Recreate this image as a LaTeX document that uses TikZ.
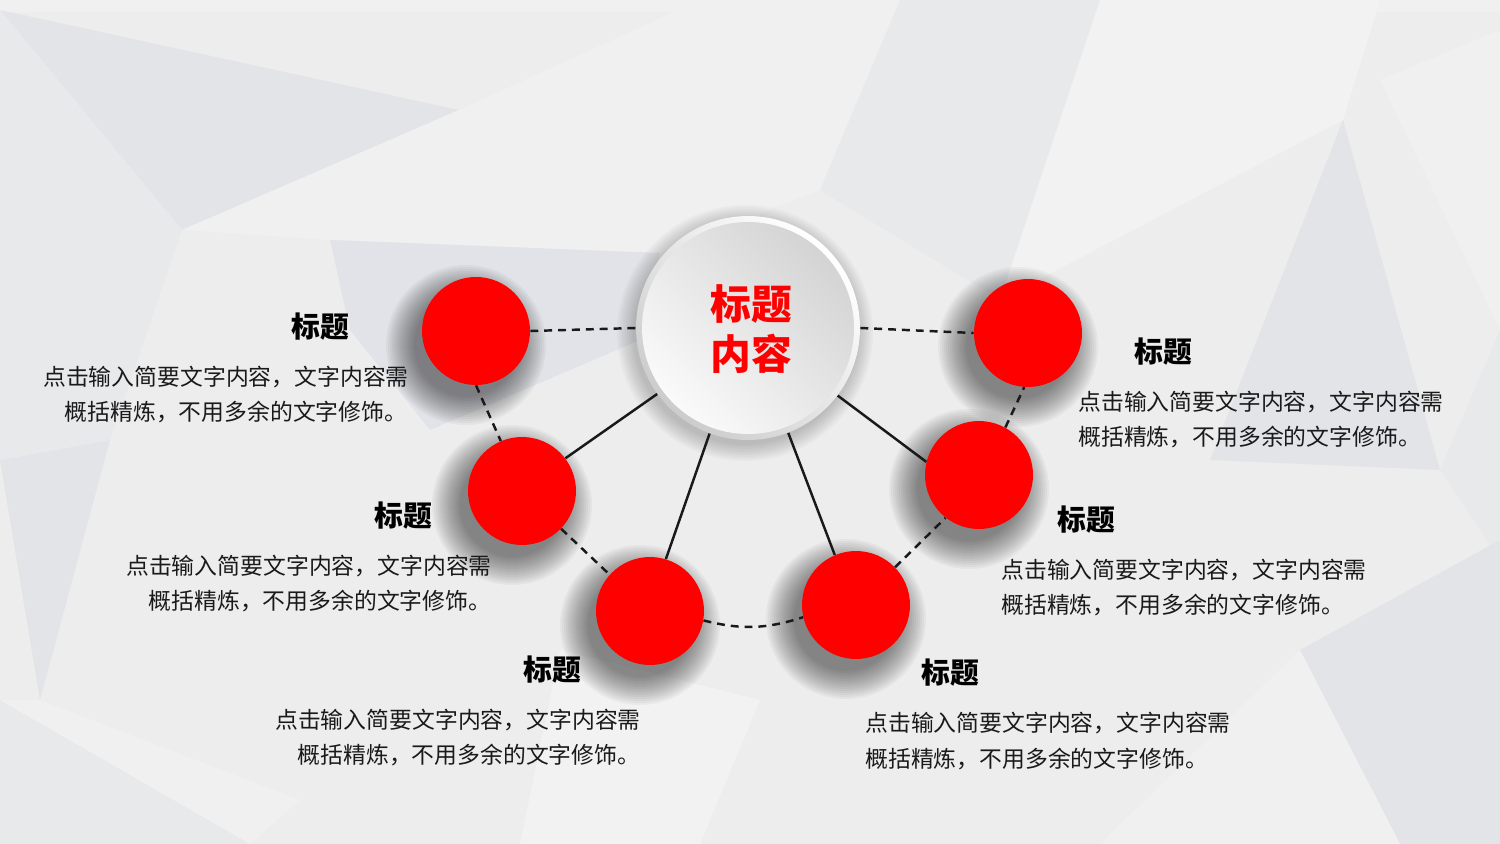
\documentclass[tikz,border=0pt]{standalone}
\usepackage{fontspec}
\setmainfont{Noto Sans CJK SC}
\definecolor{bgbase}{HTML}{EDEDEE}
\definecolor{pa}{HTML}{E3E4E7}
\definecolor{pb}{HTML}{E8E9EB}
\definecolor{pc}{HTML}{F0F0F0}
\definecolor{pd}{HTML}{E1E3E8}
\definecolor{pe}{HTML}{F2F2F2}
\definecolor{myred}{HTML}{FE0000}
\definecolor{textc}{HTML}{1A1A1A}
\begin{document}
\begin{tikzpicture}[x=0.02cm,y=-0.02cm]
\tikzset{
  redball/.style={circle, fill=myred, minimum size=2.16cm, inner sep=0pt},
  shadowlayer/.style={fill=black, opacity=#1},
  conn/.style={line width=1.4pt, draw=black!90},
  dconn/.style={conn, dash pattern=on 4.5pt off 3.4pt},
  ttl/.style={font=\bfseries\fontsize{16.4}{20}\selectfont, text=black, inner sep=0pt},
  bodyt/.style={font=\fontsize{13}{19.8}\selectfont, text=textc, inner sep=0pt},
}
\useasboundingbox (0,0) rectangle (1500,844);
% background
\fill[bgbase] (0,0) rectangle (1500,844);
\fill[pc] (0,0) rectangle (1500,12);
\fill[pa] (0,10) -- (459,110) -- (182,230) -- cycle;
\fill[pb] (0,10) -- (182,230) -- (0,330) -- cycle;
\fill[pc] (182,230) -- (459,110) -- (660,253) -- (330,240) -- cycle;
\fill[pd] (330,240) -- (660,253) -- (640,340) -- (430,430) -- (350,330) -- cycle;
\fill[pc] (459,110) -- (700,0) -- (900,0) -- (820,190) -- (660,253) -- cycle;
\fill[pb] (820,190) -- (900,0) -- (1100,0) -- (1000,300) -- cycle;
\fill[pe] (1000,300) -- (1100,0) -- (1380,0) -- (1343,120) -- cycle;
\fill[pa] (1343,120) -- (1210,460) -- (1440,470) -- cycle;
\fill[pc] (1380,80) -- (1500,30) -- (1500,330) -- cycle;
\fill[pb] (1440,470) -- (1500,330) -- (1500,560) -- cycle;
\fill[pa] (0,460) -- (110,440) -- (40,700) -- cycle;
\fill[pb] (0,330) -- (182,230) -- (110,440) -- (0,460) -- cycle;
\fill[pb] (0,700) -- (250,844) -- (0,844) -- cycle;
\fill[pc] (40,700) -- (300,800) -- (250,844) -- (0,700) -- cycle;
\fill[pa] (1300,650) -- (1500,540) -- (1500,844) -- (1400,844) -- cycle;
\fill[pc] (1100,844) -- (1300,650) -- (1400,844) -- cycle;
\fill[pe] (560,650) -- (760,700) -- (700,844) -- (520,844) -- cycle;
% soft shadows (stacked translucent discs)
\foreach \i in {1,...,9}
  \fill[shadowlayer=0.022] (745,333) circle (110+2*\i);
\foreach \cx/\cy in {476/331, 522/491, 650/611, 856/605, 979/475, 1028/333}
  \foreach \i in {1,...,15}
    \fill[shadowlayer=0.034] (\cx-10,\cy+14) circle (50+2*\i);
% central circle
\node[circle, minimum size=4.48cm, inner sep=0pt, top color=white, bottom color=black!20, shading angle=-45] (c0) at (748,328) {};
\node[circle, minimum size=4.24cm, inner sep=0pt, top color=black!17, bottom color=black!2, shading angle=-45] (c0in) at (748,328) {};
\node[font=\bfseries\fontsize{23.2}{28.3}\selectfont, text=myred, align=center, inner sep=0pt] (c0t) at (751,329) {标题\\内容};
% red balls
\node[redball] (r1) at (476,331) {};
\node[redball] (r2) at (522,491) {};
\node[redball] (r3) at (650,611) {};
\node[redball] (r4) at (856,605) {};
\node[redball] (r5) at (979,475) {};
\node[redball] (r6) at (1028,333) {};
% connectors
\draw[dconn] (r1.east) -- (c0.west);
\draw[dconn] (c0.east) -- (r6.west);
\draw[dconn] (r1.south) -- (r2.113);
\draw[dconn] (r2.-44) -- (r3.138);
\draw[dconn] (r3.-10) to[bend right=16] (r4.193);
\draw[dconn] (r4.44) -- (r5.232);
\draw[dconn] (r5.61) -- (r6.266);
\draw[conn] (c0.216) -- (r2.37);
\draw[conn] (c0.250) -- (r3.73);
\draw[conn] (c0.291) -- (r4.113);
\draw[conn] (c0.323) -- (r5.166);
% labels
\node[ttl] (t1) at (320,327) {标题};
\node[bodyt] (b1a) at (226,377) {点击输入简要文字内容，文字内容需};
\node[bodyt] (b1b) at (236,412) {概括精炼，不用多余的文字修饰。};
\node[ttl] (t2) at (403,516) {标题};
\node[bodyt] (b2a) at (309,566) {点击输入简要文字内容，文字内容需};
\node[bodyt] (b2b) at (320,601) {概括精炼，不用多余的文字修饰。};
\node[ttl] (t3) at (552,670) {标题};
\node[bodyt] (b3a) at (458,720) {点击输入简要文字内容，文字内容需};
\node[bodyt] (b3b) at (469,755) {概括精炼，不用多余的文字修饰。};
\node[ttl] (t4) at (950,673) {标题};
\node[bodyt, anchor=west] (b4a) at (865,723) {点击输入简要文字内容，文字内容需};
\node[bodyt, anchor=west] (b4b) at (865,759) {概括精炼，不用多余的文字修饰。};
\node[ttl] (t5) at (1086,520) {标题};
\node[bodyt, anchor=west] (b5a) at (1001,570) {点击输入简要文字内容，文字内容需};
\node[bodyt, anchor=west] (b5b) at (1001,605) {概括精炼，不用多余的文字修饰。};
\node[ttl] (t6) at (1163,352) {标题};
\node[bodyt, anchor=west] (b6a) at (1078,402) {点击输入简要文字内容，文字内容需};
\node[bodyt, anchor=west] (b6b) at (1078,437) {概括精炼，不用多余的文字修饰。};
\end{tikzpicture}
\end{document}
